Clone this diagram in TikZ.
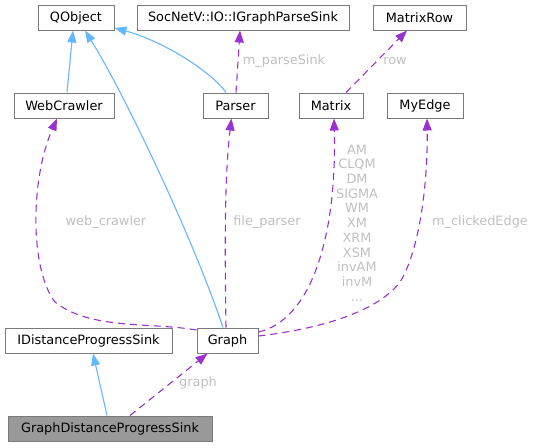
\documentclass[tikz,border=0pt]{standalone}
\usepackage{fontspec}
\setmainfont{DejaVu Sans}
\usetikzlibrary{arrows.meta}
\definecolor{inhblue}{HTML}{63B8FF}
\definecolor{usepurple}{HTML}{9A32CD}
\definecolor{lblgray}{HTML}{BFBFBF}
\definecolor{boxgray}{HTML}{7A7A7A}
\definecolor{fillgray}{HTML}{999999}
\begin{document}
\begin{tikzpicture}[x=1pt,y=-1pt,
  font=\fontsize{12.86}{14.7}\selectfont,
  cls/.style={draw=boxgray, line width=1pt, fill=white, minimum height=25pt, inner sep=0pt, anchor=center},
  inh/.style={draw=inhblue, line width=1.1pt, -{Triangle[length=12pt,width=9pt]}, fill=none},
  use/.style={draw=usepurple, line width=1.1pt, dash pattern=on 7pt off 5pt, -{Triangle[length=12pt,width=9pt]}, fill=none},
  lbl/.style={text=lblgray, inner sep=0pt, align=center}]
\useasboundingbox (0,0) rectangle (534,447);
% nodes
\node[cls, minimum width=76pt] (QObject) at (76,17.5) {QObject};
\node[cls, minimum width=212pt] (Sink) at (243,17.5) {SocNetV::IO::IGraphParseSink};
\node[cls, minimum width=93pt] (MatrixRow) at (419.5,17.5) {MatrixRow};
\node[cls, minimum width=100pt] (WebCrawler) at (64,105.5) {WebCrawler};
\node[cls, minimum width=65pt] (Parser) at (235.5,105.5) {Parser};
\node[cls, minimum width=64pt] (Matrix) at (331,105.5) {Matrix};
\node[cls, minimum width=76pt] (MyEdge) at (425,105.5) {MyEdge};
\node[cls, minimum width=167pt] (IDPS) at (88.5,340.5) {IDistanceProgressSink};
\node[cls, minimum width=61pt] (Graph) at (227.5,340.5) {Graph};
\node[cls, minimum width=204pt, fill=fillgray] (GDPS) at (110,428.5) {GraphDistanceProgressSink};
% inheritance
\draw[inh] ([xshift=3pt]WebCrawler.north) -- ([xshift=-3pt]QObject.south);
\draw[inh] ([xshift=-4.5pt]Graph.north) .. controls (193,238) and (125,95) .. ([xshift=9pt]QObject.south);
\draw[inh] ([xshift=-9.5pt]Parser.north) .. controls (210,70) and (160,40) .. ([yshift=-10.5pt]QObject.east);
\draw[inh] ([xshift=-3pt]GDPS.north) -- ([xshift=4.5pt]IDPS.south);
% usage
\draw[use] ([xshift=0.5pt]Parser.north) -- ([xshift=-3pt]Sink.south);
\node[lbl] (lparse) at (284,61) {m\_parseSink};
\draw[use] ([xshift=15pt]Matrix.north) -- ([xshift=-12.5pt]MatrixRow.south);
\node[lbl] (lrow) at (395,61) {row};
\draw[use] ([yshift=10.5pt]Graph.west) .. controls (150,322) and (90,330) .. (55,302)
  .. controls (30,270) and (30,180) .. ([xshift=-7pt]WebCrawler.south);
\node[lbl] (lweb) at (106,222) {web\_crawler};
\draw[use] ([xshift=-1.5pt]Graph.north) .. controls (225,260) and (224,180) .. ([xshift=-4pt]Parser.south);
\node[lbl] (lfile) at (267,222) {file\_parser};
\draw[use] ([yshift=8.5pt]Graph.east) .. controls (310,320) and (337,240) .. ([xshift=3pt]Matrix.south);
\node[lbl] (lmat) at (357,223) {AM\\CLQM\\DM\\SIGMA\\WM\\XM\\XRM\\XSM\\invAM\\invM\\...};
\draw[use] ([yshift=4.5pt]Graph.east) .. controls (310,330) and (375,315) .. (400,282)
  .. controls (420,250) and (428,180) .. ([xshift=2pt]MyEdge.south);
\node[lbl] (ledge) at (480,222) {m\_clickedEdge};
\draw[use] ([xshift=20pt]GDPS.north) -- ([xshift=-20pt]Graph.south);
\node[lbl] (lgraph) at (198,383) {graph};
\end{tikzpicture}
\end{document}
